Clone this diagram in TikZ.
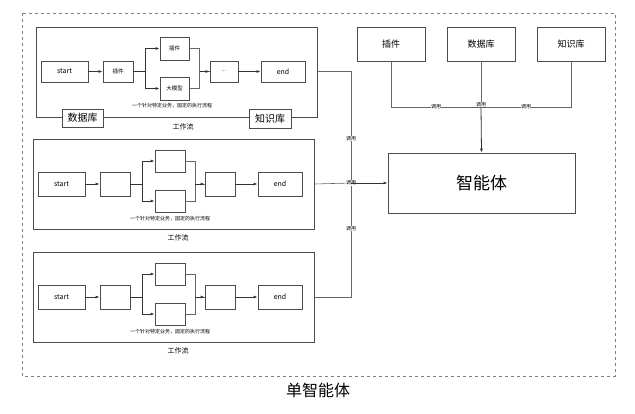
\documentclass[tikz,border=0pt]{standalone}
\usepackage{fontspec}
\setmainfont{Noto Sans CJK SC}
\usetikzlibrary{arrows.meta,calc}
\begin{document}
\begin{tikzpicture}[x=1pt,y=-1pt,
  bx/.style={draw=black!70,line width=0.8pt,minimum width=#1,inner sep=0pt},
  sm/.style={font=\fontsize{5.5}{6}\selectfont},
  ln/.style={draw=black!60,line width=0.6pt},
  ar/.style={draw=black!80,line width=0.8pt,-{Latex[length=4pt,width=3pt]}},
  lbl/.style={font=\fontsize{5}{5}\selectfont,fill=white,inner sep=0.3pt}]
\useasboundingbox (0,0) rectangle (635,413);
\draw[dashed,black!50,line width=0.5pt] (22,13) rectangle (615,376);
\node[font=\fontsize{16}{18}\selectfont] (title) at (318,390) {单智能体};
% workflow 1
\node[bx=281pt,minimum height=90pt] (w1) at (176.5,72) {};
\node[bx=47pt,minimum height=21pt,font=\fontsize{7}{8}\selectfont] (s1) at (64.5,71.5) {start};
\node[bx=30pt,minimum height=21pt,sm] (p1) at (118,71.5) {插件};
\node[bx=29pt,minimum height=23pt,sm] (t1) at (174.5,48.5) {插件};
\node[bx=29pt,minimum height=23pt,sm] (b1) at (174.5,88.5) {大模型};
\node[bx=28pt,minimum height=21pt,sm] (d1) at (224,71.5) {...};
\node[bx=44pt,minimum height=21pt,font=\fontsize{7}{8}\selectfont] (e1) at (283,71.5) {end};
\node[font=\fontsize{5}{5}\selectfont] (c1) at (172,106) {一个针对特定业务，固定的执行流程};
\node[bx=41pt,minimum height=18pt,fill=white,font=\fontsize{10}{11}\selectfont] (db1) at (82.5,118) {数据库};
\node[bx=42pt,minimum height=19pt,fill=white,font=\fontsize{10}{11}\selectfont] (kb1) at (270,118.5) {知识库};
\node[font=\fontsize{7}{8}\selectfont] (g1) at (183,127) {工作流};
\draw[ar] (s1) -- (p1);
\draw[ar] (p1.east) -- ++(12,0) |- (t1.west);
\draw[ar] (p1.east) -- ++(12,0) |- (b1.west);
\draw[ln] (t1.east) -- ++(10,0) |- (d1.west);
\draw[ln] (b1.east) -- ++(10,0) |- (d1.west);
\draw[ar] ($(d1.west)+(-10,0)$) -- (d1.west);
\draw[ar] (d1) -- (e1);
% workflows 2 and 3
\foreach \n/\dy in {2/0,3/113}{
\begin{scope}[yshift=-\dy pt]
\node[bx=281pt,minimum height=90pt] (w\n) at (173.5,184) {};
\node[bx=47pt,minimum height=24pt,font=\fontsize{7}{8}\selectfont] (s\n) at (61.5,184) {start};
\node[bx=30pt,minimum height=24pt] (p\n) at (115,184) {};
\node[bx=30pt,minimum height=22pt] (t\n) at (170,161) {};
\node[bx=30pt,minimum height=22pt] (b\n) at (170,201) {};
\node[bx=30pt,minimum height=24pt] (d\n) at (220,184) {};
\node[bx=44pt,minimum height=24pt,font=\fontsize{7}{8}\selectfont] (e\n) at (280,184) {end};
\node[font=\fontsize{5}{5}\selectfont] (c\n) at (170,219) {一个针对特定业务，固定的执行流程};
\node[font=\fontsize{7}{8}\selectfont] (g\n) at (178,238) {工作流};
\draw[ar] (s\n) -- (p\n);
\draw[ar] (p\n.east) -- ++(12,0) |- (t\n.west);
\draw[ar] (p\n.east) -- ++(12,0) |- (b\n.west);
\draw[ln] (t\n.east) -- ++(10,0) |- (d\n.west);
\draw[ln] (b\n.east) -- ++(10,0) |- (d\n.west);
\draw[ar] ($(d\n.west)+(-10,0)$) -- (d\n.west);
\draw[ar] (d\n) -- (e\n);
\end{scope}}
% right side
\node[bx=68pt,minimum height=34pt,font=\fontsize{9}{10}\selectfont] (r1) at (391,44) {插件};
\node[bx=68pt,minimum height=34pt,font=\fontsize{9}{10}\selectfont] (r2) at (481,44) {数据库};
\node[bx=68pt,minimum height=34pt,font=\fontsize{9}{10}\selectfont] (r3) at (571,44) {知识库};
\node[bx=187pt,minimum height=60pt,font=\fontsize{17}{19}\selectfont] (ag) at (481.5,183) {智能体};
\coordinate (hub) at (481,107);
\draw[ln] (r1.south) |- (hub) node[lbl,pos=0.75] {调用};
\draw[ln] (r3.south) |- (hub) node[lbl,pos=0.75] {调用};
\draw[ln] (r2.south) -- (hub) node[lbl,pos=0.95] {调用};
\draw[ar] (hub) -- (ag.north);
\coordinate (jn) at (351,183);
\draw[ln] (w1.east |- e1) -| (jn) node[lbl,pos=0.8] {调用};
\draw[ln] (w3.east |- e3) -| (jn) node[lbl,pos=0.8] {调用};
\draw[ln] (w2.east |- e2) -- (jn) node[lbl,pos=1] {调用};
\draw[ar] (jn) -- (ag.west);
\end{tikzpicture}
\end{document}
